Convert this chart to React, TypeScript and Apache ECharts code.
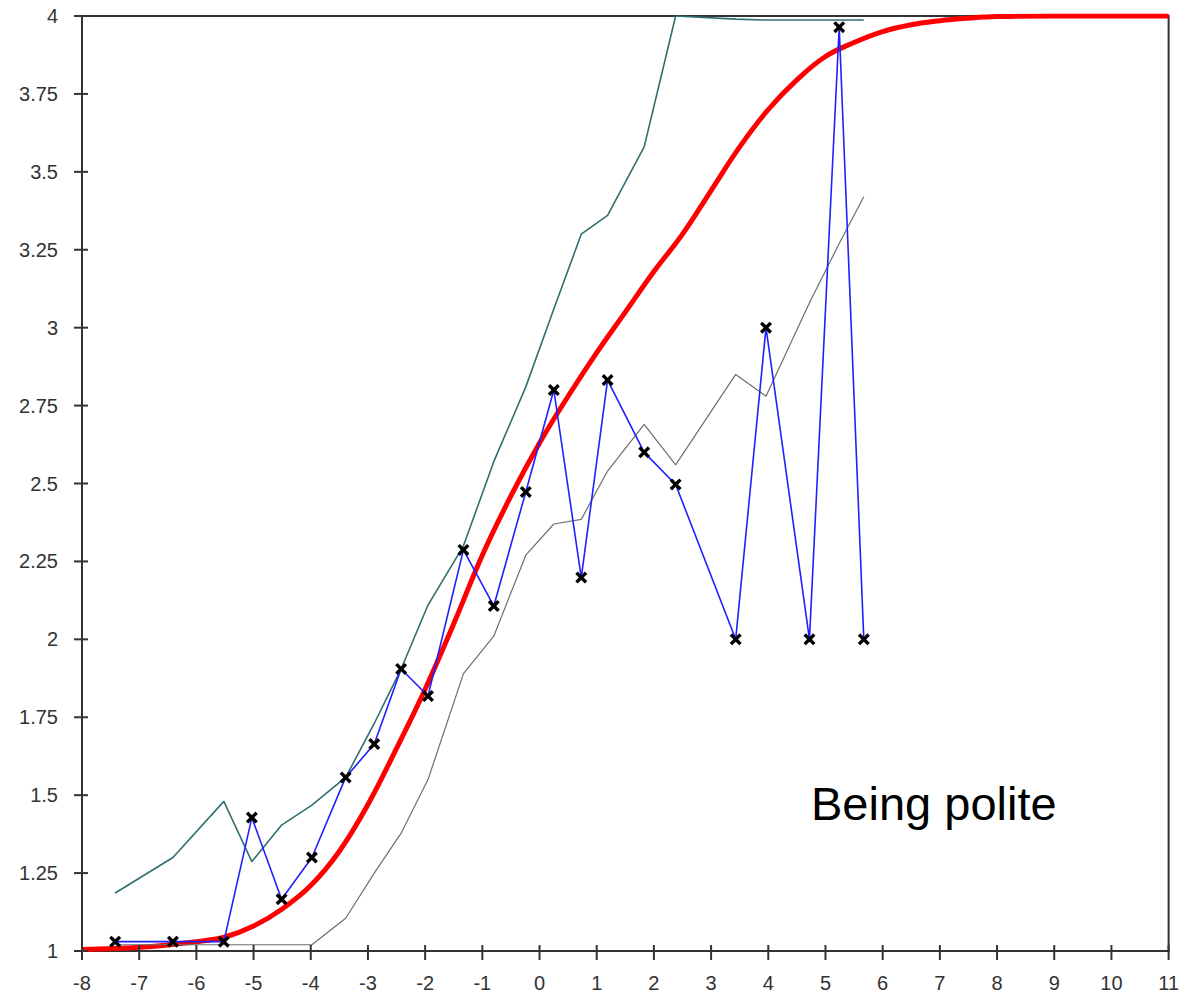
import React, { useEffect, useRef } from "react";
import * as echarts from "echarts";

// Observed points (blue line with X markers)
const obsX = [-7.42, -6.41, -5.52, -5.03, -4.51, -3.98, -3.39, -2.89, -2.42, -1.95, -1.33, -0.8, -0.24, 0.25, 0.73, 1.19, 1.83, 2.38, 3.43, 3.96, 4.72, 5.24, 5.67];
const obsY = [1.03, 1.03, 1.03, 1.428, 1.166, 1.3, 1.557, 1.664, 1.905, 1.818, 2.287, 2.107, 2.473, 2.8, 2.198, 2.832, 2.6, 2.497, 2.0, 3.0, 2.0, 3.964, 2.0];
// Upper band (teal)
const upperY = [1.186, 1.3, 1.48, 1.287, 1.404, 1.468, 1.557, 1.73, 1.905, 2.11, 2.3, 2.57, 2.81, 3.06, 3.3, 3.36, 3.58, 4.0, 3.99, 3.987, 3.987, 3.987, 3.987];
// Lower band (gray)
const lowerY = [1.02, 1.02, 1.02, 1.02, 1.02, 1.02, 1.105, 1.25, 1.378, 1.55, 1.89, 2.01, 2.27, 2.37, 2.385, 2.54, 2.69, 2.56, 2.85, 2.78, 3.08, 3.27, 3.42];
// Expected score curve (red)
const curveX = [-8, -7, -6, -5.5, -5, -4.5, -4, -3.5, -3, -2.5, -2, -1.5, -1, -0.5, 0, 0.5, 1, 1.5, 2, 2.5, 3, 3.5, 4, 4.5, 5, 5.5, 6, 6.5, 7, 7.5, 8, 9, 10, 11];
const curveY = [1.005, 1.012, 1.03, 1.045, 1.08, 1.135, 1.21, 1.32, 1.47, 1.65, 1.84, 2.05, 2.27, 2.46, 2.63, 2.78, 2.92, 3.05, 3.18, 3.3, 3.44, 3.58, 3.7, 3.795, 3.87, 3.915, 3.95, 3.972, 3.985, 3.993, 3.998, 4.0, 4.0, 4.0];

// Tick positions
const xTicks = [-8, -7, -6, -5, -4, -3, -2, -1, 0, 1, 2, 3, 4, 5, 6, 7, 8, 9, 10, 11];
const yTicks = [1, 1.25, 1.5, 1.75, 2, 2.25, 2.5, 2.75, 3, 3.25, 3.5, 3.75, 4];

const annotation = "Being polite";

const xMin = -8, xMax = 11, xStep = 1;
const yMin = 1, yMax = 4, yStep = 0.25;

const X_SYMBOL = "path://M2,0 L5,3 L8,0 L10,2 L7,5 L10,8 L8,10 L5,7 L2,10 L0,8 L3,5 L0,2 Z";

export default function App() {
  const ref = useRef<HTMLDivElement>(null);
  useEffect(() => {
    document.body.style.margin = "0";
    const chart = echarts.init(ref.current!, undefined, { renderer: "svg" });
    const zip = (xs: number[], ys: number[]) => xs.map((x, i) => [x, ys[i]]);
    const labelFont = { fontFamily: "Liberation Sans, Arial, sans-serif", fontSize: 20, color: "#333" };
    const lineStyle = { color: "#333", width: 2 };
    chart.setOption({
      animation: false,
      backgroundColor: "#fff",
      grid: { left: 82, right: 13, top: 16, bottom: 49, show: true, borderColor: "#333", borderWidth: 2, backgroundColor: "transparent" },
      xAxis: {
        type: "value", min: xMin, max: xMax, interval: xStep, position: "bottom",
        axisLine: { show: true, onZero: false, lineStyle },
        axisTick: { show: false },
        axisLabel: { show: true, ...labelFont, margin: 22 },
        splitLine: { show: false },
      },
      yAxis: {
        type: "value", min: yMin, max: yMax, interval: yStep, position: "left",
        axisLine: { show: true, onZero: false, lineStyle },
        axisTick: { show: false },
        axisLabel: { show: true, ...labelFont, margin: 24 },
        splitLine: { show: false },
      },
      series: [
        {
          type: "custom", name: "xticks", silent: true, clip: false, z: 10,
          data: xTicks.map((v) => [v, yMin]),
          encode: { x: 0, y: 1 },
          renderItem: (params: any, api: any) => {
            const p = api.coord([api.value(0), api.value(1)]);
            return { type: "line", shape: { x1: p[0], y1: p[1] - 6, x2: p[0], y2: p[1] + 9 }, style: { stroke: "#333", lineWidth: 2 } };
          },
        },
        {
          type: "custom", name: "yticks", silent: true, clip: false, z: 10,
          data: yTicks.map((v) => [xMin, v]),
          encode: { x: 0, y: 1 },
          renderItem: (params: any, api: any) => {
            const p = api.coord([api.value(0), api.value(1)]);
            return { type: "line", shape: { x1: p[0] - 8, y1: p[1], x2: p[0] + 6, y2: p[1] }, style: { stroke: "#333", lineWidth: 2 } };
          },
        },
        {
          type: "line", name: "expected", data: zip(curveX, curveY), smooth: 0.4,
          showSymbol: false, lineStyle: { color: "#ff0000", width: 5 }, z: 2,
        },
        {
          type: "line", name: "lower", data: zip(obsX, lowerY),
          showSymbol: false, lineStyle: { color: "#6e6e6e", width: 1.2 }, z: 3,
        },
        {
          type: "line", name: "upper", data: zip(obsX, upperY),
          showSymbol: false, lineStyle: { color: "#2f6f6f", width: 1.6 }, z: 3,
        },
        {
          type: "line", name: "observed", data: zip(obsX, obsY),
          symbol: X_SYMBOL, symbolSize: 12, showAllSymbol: true,
          itemStyle: { color: "#000" },
          lineStyle: { color: "#1f1fff", width: 1.6 }, z: 4,
        },
      ],
      graphic: [
        {
          type: "text", left: 811, top: 780,
          style: { text: annotation, fontSize: 47, fontFamily: "Liberation Sans, Arial, sans-serif", fill: "#000" },
        },
      ],
    });
    return () => chart.dispose();
  }, []);
  return <div ref={ref} style={{ width: 1182, height: 1000 }} />;
}
